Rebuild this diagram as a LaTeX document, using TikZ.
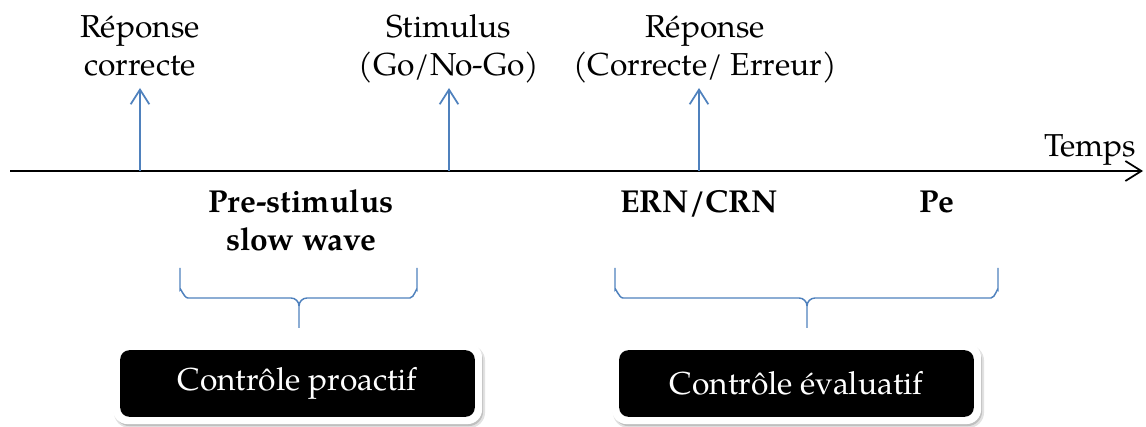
\documentclass[tikz,border=0pt]{standalone}
\usepackage{fontspec}
\setmainfont{TeX Gyre Pagella}
\usetikzlibrary{arrows.meta,backgrounds}
\definecolor{accblue}{RGB}{79,129,189}
\definecolor{shadowgray}{RGB}{140,140,140}
\begin{document}
\begin{tikzpicture}[x=0.75pt,y=-0.75pt,
  lbl/.style={font=\fontsize{23.8}{28.5}\selectfont, align=center, inner sep=0pt},
  blbl/.style={lbl, font=\fontsize{23.8}{28.5}\selectfont\bfseries},
  evarrow/.style={draw=accblue, line width=1.5pt, -{Straight Barb[length=11pt,width=14pt,line width=1.3pt]}},
  axisline/.style={draw=black, line width=1.6pt, -{Straight Barb[length=12pt,width=15pt,line width=1.3pt]}},
  bracepath/.style={draw=accblue, line width=1.1pt},
  ctrlbox/.style={fill=black, text=white, rounded corners=7pt, minimum width=266pt, minimum height=50pt,
     inner sep=0pt, font=\fontsize{23.8}{28.5}\selectfont}
]
\useasboundingbox (0,0) rectangle (1146,427);

% axis
\coordinate (axL) at (10,171);
\coordinate (axR) at (1143,171);
\draw[axisline] (axL) -- (axR);
\node[lbl, anchor=base] (temps) at (1090,157) {Temps};

% event arrows
\coordinate (e1) at (140,171); \coordinate (t1) at (140,88);
\coordinate (e2) at (449,171); \coordinate (t2) at (449,88);
\coordinate (e3) at (699,171); \coordinate (t3) at (699,88);
\draw[evarrow] (e1) -- (t1);
\draw[evarrow] (e2) -- (t2);
\draw[evarrow] (e3) -- (t3);

\node[lbl, anchor=base] (rc1) at (140,38) {Réponse};
\node[lbl, anchor=base] (rc2) at (140,76) {correcte};
\node[lbl, anchor=base] (st1) at (449,38) {Stimulus};
\node[lbl, anchor=base] (st2) at (449,76) {(Go/No-Go)};
\node[lbl, anchor=base] (rp1) at (705,38) {Réponse};
\node[lbl, anchor=base] (rp2) at (705,76) {(Correcte/ Erreur)};

% components
\node[blbl, anchor=base] (ps1) at (301,213) {Pre-stimulus};
\node[blbl, anchor=base] (ps2) at (301,251) {slow wave};
\node[blbl, anchor=base] (ern) at (699,213) {ERN/CRN};
\node[blbl, anchor=base] (pe) at (937,213) {Pe};

% braces
\draw[bracepath] (180,268) -- (180,290) to[out=90,in=180] (188,298) -- (291,298)
   to[out=0,in=90] (299,306) -- (299,328);
\draw[bracepath] (299,306) to[out=90,in=180] (307,298) -- (410,298)
   to[out=0,in=90] (417,290) -- (417,268);
\draw[bracepath] (615,268) -- (615,290) to[out=90,in=180] (623,298) -- (799,298)
   to[out=0,in=90] (807,306) -- (807,328);
\draw[bracepath] (807,306) to[out=90,in=180] (815,298) -- (991,298)
   to[out=0,in=90] (998,290) -- (998,268);

% boxes
\node[ctrlbox] (b1) at (297.5,383.5) {Contrôle proactif};
\node[ctrlbox] (b2) at (796.5,383.5) {Contrôle évaluatif};

\begin{scope}[on background layer]
  \foreach \b in {b1,b2}{
    \fill[shadowgray, opacity=0.25, rounded corners=12pt] ([shift={(-6,-5)}]\b.north west) rectangle ([shift={(10,11)}]\b.south east);
    \fill[shadowgray, opacity=0.4, rounded corners=11pt] ([shift={(-5,-4)}]\b.north west) rectangle ([shift={(8,9)}]\b.south east);
    \fill[white, rounded corners=11pt] ([shift={(-7,-7)}]\b.north west) rectangle ([shift={(7,7)}]\b.south east);
  }
\end{scope}
\end{tikzpicture}
\end{document}
